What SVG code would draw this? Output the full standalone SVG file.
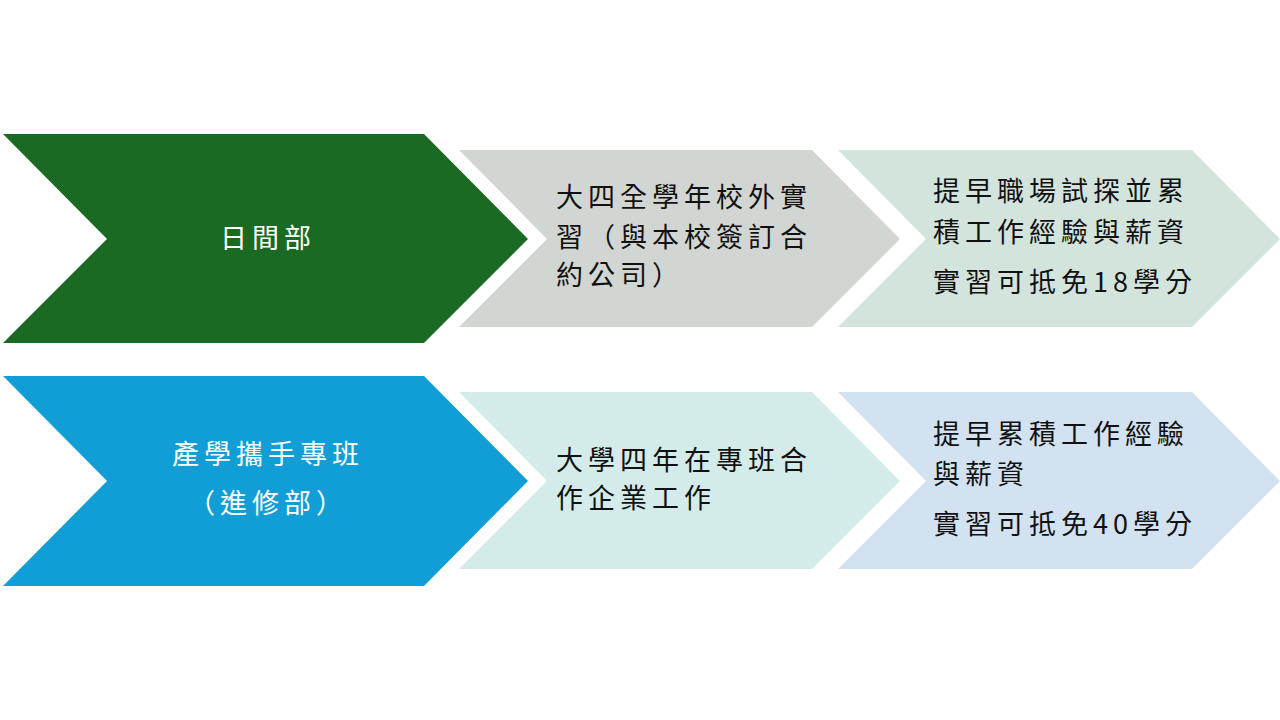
<svg xmlns="http://www.w3.org/2000/svg" width="1280" height="720" viewBox="0 0 1280 720">
<style>
text{font-family:"Noto Sans CJK TC","Noto Sans CJK SC",sans-serif;font-size:27px;letter-spacing:5px}
.w{fill:#ffffff}
.k{fill:#111111}
</style>
<rect width="1280" height="720" fill="#ffffff"/>
<g id="n1"><polygon points="3,134 424,134 528,239 424,343 3,343 107,239" fill="#1b6a23"/><text class="w" x="268" y="248" text-anchor="middle">日間部</text></g>
<g id="n2"><polygon points="459,150 812,150 900,239 812,327 459,327 547,239" fill="#d2d6d2"/>
<text class="k" x="556" y="207">大四全學年校外實</text><text class="k" x="556" y="247">習（與本校簽訂合</text><text class="k" x="556" y="285">約公司）</text></g>
<g id="n3"><polygon points="838,150 1192,150 1280,239 1192,327 838,327 926,239" fill="#d3e4dd"/>
<text class="k" x="933" y="201">提早職場試探並累</text><text class="k" x="933" y="242">積工作經驗與薪資</text><text class="k" x="933" y="292">實習可抵免18學分</text></g>
<g id="n4"><polygon points="3,376 424,376 528,481 424,586 3,586 107,481" fill="#119ed6"/>
<text class="w" x="268" y="464" text-anchor="middle">產學攜手專班</text><text class="w" x="268" y="513" text-anchor="middle">（進修部）</text></g>
<g id="n5"><polygon points="459,392 812,392 900,481 812,569 459,569 547,481" fill="#d3ebe9"/>
<text class="k" x="556" y="470">大學四年在專班合</text><text class="k" x="556" y="508">作企業工作</text></g>
<g id="n6"><polygon points="838,392 1192,392 1280,481 1192,569 838,569 926,481" fill="#d3e2f0"/>
<text class="k" x="933" y="444">提早累積工作經驗</text><text class="k" x="933" y="484">與薪資</text><text class="k" x="933" y="534">實習可抵免40學分</text></g>
<g id="connectors"></g>
</svg>
